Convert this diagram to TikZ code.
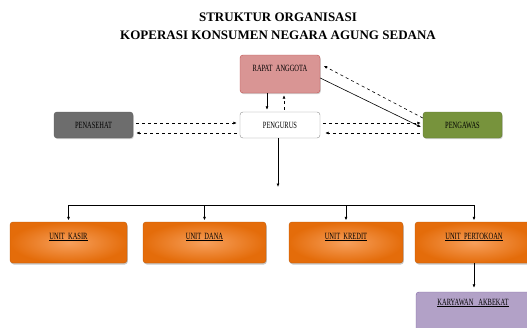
\documentclass[tikz,border=0pt]{standalone}
\usepackage{fontspec}
\setmainfont{Liberation Serif}
\newfontfamily\boxfont[FakeStretch=0.68]{Liberation Serif}
\usetikzlibrary{arrows.meta,shadows}
\definecolor{rapatred}{HTML}{D99594}
\definecolor{rapatline}{HTML}{C0504D}
\definecolor{nasehatgray}{HTML}{6D6D6D}
\definecolor{awasgreen}{HTML}{77933C}
\definecolor{awasline}{HTML}{5F7530}
\definecolor{unitouter}{HTML}{E46C0A}
\definecolor{unitinner}{HTML}{F7A05C}
\definecolor{karyawanpurple}{HTML}{B2A1C7}
\definecolor{karyawanline}{HTML}{8064A2}

\begin{document}
\begin{tikzpicture}[x=1pt,y=-1pt,
		box/.style={draw, rounded corners=3pt, minimum width=80pt, minimum height=26pt,
			inner sep=1pt, font=\boxfont\fontsize{9.5}{10}\selectfont},
		unitbox/.style={box, draw=unitouter!85!black, inner color=unitinner, outer color=unitouter,
			minimum height=41pt, text depth=13pt,
			drop shadow={shadow xshift=0.8pt, shadow yshift=-1.5pt, opacity=0.45}},
		link/.style={-{Latex[length=3.5pt,width=3pt]}, line width=0.6pt},
		dashlink/.style={link, dashed}]
		%%%%% START %%%%%
		\useasboundingbox (0,0) rectangle (527,327);
		
		\node[font=\bfseries\fontsize{13}{15}\selectfont] (title) at (278,17) {STRUKTUR ORGANISASI};
		\node[font=\bfseries\fontsize{13}{15}\selectfont] (subtitle) at (278,35) {KOPERASI KONSUMEN NEGARA AGUNG SEDANA};
		
		\node[box, fill=rapatred, draw=rapatline, minimum height=38pt, text depth=12pt,
			drop shadow={shadow xshift=0.8pt, shadow yshift=-1.2pt, opacity=0.35}] (rapat) at (280,74) {RAPAT\ \ ANGGOTA};
		\node[box, fill=white, draw=black!45] (pengurus) at (280,125) {PENGURUS};
		\node[box, fill=nasehatgray, draw=nasehatgray!85!black, minimum width=79pt,
			drop shadow={shadow xshift=0.8pt, shadow yshift=-1.2pt, opacity=0.35}] (penasehat) at (93.5,125) {PENASEHAT};
		\node[box, fill=awasgreen, draw=awasline, minimum width=79pt,
			drop shadow={shadow xshift=0.8pt, shadow yshift=-1.2pt, opacity=0.35}] (pengawas) at (462.5,125) {PENGAWAS};
		
		\node[unitbox, minimum width=117pt] (kasir) at (68.5,242.5) {\underline{UNIT\ \ KASIR}};
		\node[unitbox, minimum width=123pt] (dana) at (204.5,242.5) {\underline{UNIT\ \ DANA}};
		\node[unitbox, minimum width=114pt] (kredit) at (346,242.5) {\underline{UNIT\ \ KREDIT}};
		\node[unitbox, minimum width=118pt] (pertokoan) at (474,242.5) {\underline{UNIT\ \ PERTOKOAN}};
		
		\node[box, fill=karyawanpurple, draw=karyawanline, minimum width=114pt, minimum height=48pt,
			text depth=28pt] (karyawan) at (473,316) {\underline{KARYAWAN\ \ \ AKBEKAT}};
		
		% rapat anggota <-> pengurus
		\draw[link, shorten >=2pt] ([xshift=-13pt]rapat.south) -- ([xshift=-13pt]pengurus.north);
		\draw[dashlink, shorten <=2pt, shorten >=2pt] ([xshift=4pt]pengurus.north) -- ([xshift=4pt]rapat.south);
		
		% penasehat <-> pengurus
		\draw[dashlink, shorten <=3pt, shorten >=3pt] ([yshift=2pt]penasehat.east) -- ([yshift=2pt]pengurus.west);
		\draw[dashlink, shorten <=3pt, shorten >=3pt] ([yshift=-8pt]pengurus.west) -- ([yshift=-8pt]penasehat.east);
		
		% pengurus <-> pengawas
		\draw[dashlink, shorten <=3pt, shorten >=2pt] ([yshift=2pt]pengurus.east) -- ([yshift=2pt]pengawas.west);
		\draw[dashlink, shorten <=3pt, shorten >=5pt] ([yshift=-8pt]pengawas.west) -- ([yshift=-8pt]pengurus.east);
		
		% rapat anggota <-> pengawas
		\draw[link, shorten >=2pt] ([yshift=-4pt]rapat.east) -- ([yshift=-3pt]pengawas.west);
		\draw[dashlink, shorten >=4pt] ([yshift=7pt]pengawas.west) -- ([yshift=10pt]rapat.east);
		
		% pengurus -> units
		\coordinate (drop) at (278,187);
		\coordinate (bar) at (0,205);
		\draw[link, line width=0.9pt] (pengurus.south -| drop) -- (drop);
		\draw[line width=1pt] (bar -| kasir) -- (bar -| pertokoan);
		\foreach \u in {kasir,dana,kredit,pertokoan}
			\draw[link, shorten >=1.5pt] (bar -| \u) -- (\u.north);
		
		\draw[link, shorten >=4pt] (pertokoan.south) -- (pertokoan.south |- karyawan.north);
		%%%%% END %%%%%
\end{tikzpicture}
\end{document}
